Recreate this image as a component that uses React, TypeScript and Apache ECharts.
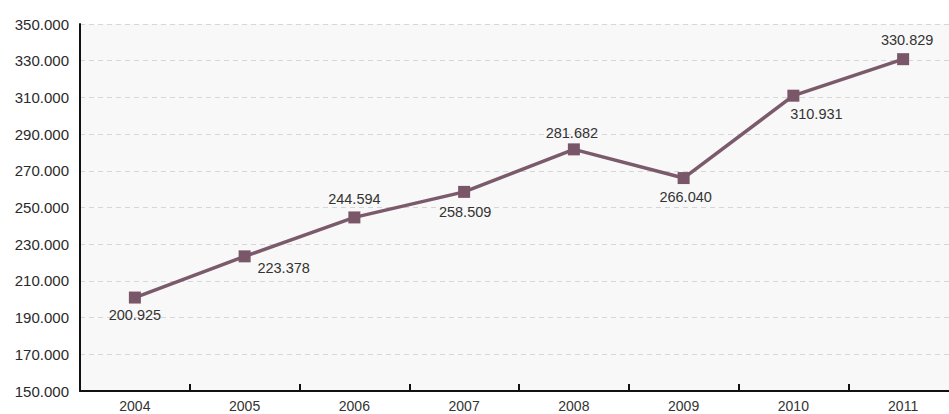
import React, { useEffect, useRef } from "react";
import * as echarts from "echarts";

const years = ["2004", "2005", "2006", "2007", "2008", "2009", "2010", "2011"];
const values = [200.925, 223.378, 244.594, 258.509, 281.682, 266.04, 310.931, 330.829];
const valueLabels = ["200.925", "223.378", "244.594", "258.509", "281.682", "266.040", "310.931", "330.829"];
const yTickLabels = ["150.000", "170.000", "190.000", "210.000", "230.000", "250.000", "270.000", "290.000", "310.000", "330.000", "350.000"];
const yMin = 150;
const yMax = 350;

const labelOffsets: [number, number][] = [
  [0, 17], [39, 12], [0, -18], [1, 20], [-2, -16], [2, 19], [23, 18], [4, -19],
];

export default function App() {
  const ref = useRef<HTMLDivElement>(null);
  useEffect(() => {
    const chart = echarts.init(ref.current!, undefined, { renderer: "svg" });
    const font = "'Liberation Sans', Arial, sans-serif";
    chart.setOption({
      animation: false,
      backgroundColor: "#ffffff",
      grid: {
        left: 80,
        top: 24,
        width: 878,
        height: 367,
        show: true,
        backgroundColor: "#f8f8f8",
        borderWidth: 0,
        containLabel: false,
        outerBoundsMode: "none",
      },
      xAxis: {
        type: "category",
        data: years,
        boundaryGap: true,
        axisLine: { show: true, lineStyle: { color: "#111", width: 2 } },
        axisTick: { show: true, inside: true, length: 7, alignWithLabel: false, lineStyle: { color: "#111", width: 2 } },
        axisLabel: { color: "#333", fontSize: 14, lineHeight: 14, fontFamily: font, margin: 8 },
        splitLine: { show: false },
      },
      yAxis: [
        {
          type: "value",
          min: yMin,
          max: yMax,
          show: false,
          splitLine: { show: false },
        },
        {
          type: "category",
          data: yTickLabels,
          boundaryGap: false,
          position: "left",
          axisLine: { show: true, lineStyle: { color: "#111", width: 2 } },
          axisTick: { show: false },
          axisLabel: { color: "#2a2a2a", fontSize: 15, fontFamily: font, margin: 11 },
          splitLine: { show: true, lineStyle: { color: "#d6d6d6", width: 1, type: [5, 4] } },
        },
      ],
      series: [
        {
          type: "line",
          yAxisIndex: 0,
          data: values.map((v, i) => ({
            value: v,
            label: {
              show: true,
              position: "inside",
              offset: labelOffsets[i],
              formatter: () => valueLabels[i],
              color: "#333",
              fontSize: 14.5,
              fontFamily: font,
            },
          })),
          symbol: "rect",
          symbolSize: 12,
          lineStyle: { color: "#7b5a6b", width: 3.5 },
          itemStyle: { color: "#7a5669" },
          z: 5,
        },
      ],
    });
    return () => chart.dispose();
  }, []);
  return (
    <div
      ref={ref}
      style={{ position: "fixed", left: 0, top: 0, width: 949, height: 414 }}
    />
  );
}
